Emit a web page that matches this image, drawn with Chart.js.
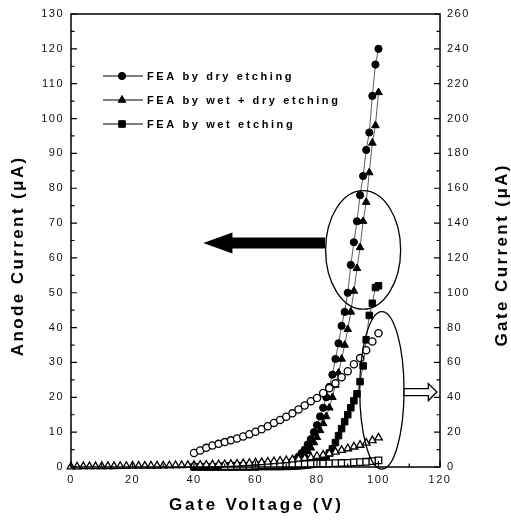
<!DOCTYPE html>
<html>
<head>
<meta charset="utf-8">
<script src="https://cdn.jsdelivr.net/npm/chart.js@4.4.0/dist/chart.umd.min.js"></script>
<style>
  html, body { margin: 0; padding: 0; background: #fff; }
  #wrap { width: 511px; height: 530px; position: relative; }
</style>
</head>
<body>
<div id="wrap"><canvas id="ivChart"></canvas></div>
<script>
// Anode current (left axis, uA) - filled markers
const anodeVolts = [40, 42, 44, 46, 48, 50, 52, 54, 56, 58, 60, 62, 64, 66, 68,
    70, 71, 72, 73, 74, 75, 76, 77, 78, 79, 80, 81, 82, 83, 84, 85,
    86, 87, 88, 89, 90, 91, 92, 93, 94, 95, 96, 97, 98, 99, 100];
const dryAnode = [0, 0, 0, 0, 0, 0, 0, 0.1, 0.1, 0.1, 0.2, 0.2, 0.3, 0.4, 0.5,
    0.8, 1.1, 1.6, 2.2, 3, 4, 5, 6.5, 8, 10, 12, 14.5, 17, 20, 23, 26.5,
    31, 35.5, 40.5, 44.5, 50, 58, 64.5, 70.5, 78, 83.5, 91, 96, 106.5, 115.5, 120];
const wetDryAnode = [0, 0, 0, 0, 0, 0, 0, 0, 0.1, 0.1, 0.1, 0.2, 0.2, 0.3, 0.4,
    0.6, 0.8, 1.1, 1.5, 2, 2.7, 3.5, 4.5, 5.5, 7, 8.5, 10.5, 12.5, 14.5, 17, 20,
    23.5, 27, 31, 35, 39.5, 44.5, 50.5, 57, 63, 70.5, 76, 84.5, 93, 98, 107.5];
const wetAnode = [0, 0, 0, 0, 0, 0, 0, 0, 0, 0, 0, 0.1, 0.1, 0.1, 0.1,
    0.15, 0.2, 0.25, 0.3, 0.35, 0.4, 0.5, 0.6, 0.7, 0.9, 1.2, 1.6, 2.2, 3, 4, 5.2,
    7, 9, 11, 13, 15, 17, 19, 21, 24.5, 29, 36.5, 43.5, 47, 51.5, 52];

// Gate current (right axis, uA) - open markers
const dryGateVolts = [40, 42, 44, 46, 48, 50, 52, 54, 56, 58, 60, 62, 64, 66, 68, 70,
    72, 74, 76, 78, 80, 82, 84, 86, 88, 90, 92, 94, 96, 98, 100];
const dryGate = [8, 9.5, 11, 12.3, 13.3, 14.3, 15.3, 16.4, 17.5, 18.8, 20.2, 21.7, 23.4, 25.3, 27, 28.8,
    30.8, 33, 35.3, 37.8, 39.6, 42.5, 45.2, 48, 51.5, 55, 59, 62.5, 67, 72, 76.8];
const wetDryGateVolts = [0, 2, 4, 6, 8, 10, 12, 14, 16, 18, 20, 22, 24, 26, 28, 30, 32, 34, 36, 38,
    40, 42, 44, 46, 48, 50, 52, 54, 56, 58, 60, 62, 64, 66, 68, 70, 72, 74, 76, 78,
    80, 82, 84, 86, 88, 90, 92, 94, 96, 98, 100];
const wetDryGate = [0.2, 0.2, 0.3, 0.3, 0.3, 0.4, 0.4, 0.4, 0.5, 0.5, 0.6, 0.6, 0.6, 0.7, 0.7, 0.8, 0.8, 0.9, 0.9, 1.0,
    1.0, 1.1, 1.2, 1.3, 1.4, 1.5, 1.6, 1.8, 2.0, 2.2, 2.4, 2.6, 2.9, 3.2, 3.5, 3.8, 4.2, 4.6, 5.0, 5.5,
    6.2, 6.9, 7.7, 8.6, 9.6, 10.6, 11.6, 12.6, 13.8, 15.2, 16.8];
const wetGateVolts = [50, 52, 54, 56, 58, 60, 62, 64, 66, 68, 70, 72, 74, 76, 78, 80,
    82, 84, 86, 88, 90, 92, 94, 96, 98, 100];
const wetGate = [0.5, 0.5, 0.6, 0.6, 0.7, 0.8, 0.9, 1.0, 1.1, 1.2, 1.4, 1.5, 1.6, 1.7, 1.8, 1.9,
    2.0, 2.1, 2.2, 2.3, 2.4, 2.6, 2.8, 3.0, 3.4, 3.8];

const legendLabels = ['FEA by dry etching', 'FEA by wet + dry etching', 'FEA by wet etching'];

const FONT = '"Liberation Sans", Arial, sans-serif';

// annotations, in data units (x: volts, y: left axis uA)
const leftEllipse = { x: 95, y: 62.3, rx: 12.2, ry: 17 };
const rightEllipse = { x: 101.1, y: 22, rx: 7.2, ry: 22.6 };
const bigArrow = { tail: 82.6, neck: 52.5, tip: 43, y: 64.3 };
const smallArrow = { tail: 108.3, neck: 116.2, tip: 119, y: 21.5 };

function pts(xs, ys) {
    return xs.map((x, i) => ({ x: x, y: ys[i] }));
}

function filledSet(label, xs, ys, style, radius) {
    return {
        label: label,
        data: pts(xs, ys),
        yAxisID: 'y',
        showLine: true,
        borderColor: '#333',
        borderWidth: 0.8,
        pointStyle: style,
        pointRadius: radius,
        pointBackgroundColor: '#000',
        pointBorderColor: '#000',
        pointBorderWidth: 1,
        clip: false,
        order: 2
    };
}

function openSet(label, xs, ys, style, radius) {
    return {
        label: label,
        data: pts(xs, ys),
        yAxisID: 'y2',
        showLine: false,
        pointStyle: style,
        pointRadius: radius,
        pointBackgroundColor: '#fff',
        pointBorderColor: '#000',
        pointBorderWidth: 1.3,
        clip: false,
        order: 1
    };
}

function arrowPath(ctx, tailX, neckX, tipX, y, half, headHalf) {
    ctx.beginPath();
    ctx.moveTo(tailX, y - half);
    ctx.lineTo(neckX, y - half);
    ctx.lineTo(neckX, y - headHalf);
    ctx.lineTo(tipX, y);
    ctx.lineTo(neckX, y + headHalf);
    ctx.lineTo(neckX, y + half);
    ctx.lineTo(tailX, y + half);
    ctx.closePath();
}

function spacedText(ctx, text, x, y, spacing) {
    ctx.letterSpacing = spacing + 'px';
    const w = ctx.measureText(text).width - spacing;
    ctx.fillText(text, x - w / 2, y);
}

const decor = {
    id: 'decor',
    beforeDraw(chart) {
        chart.ctx.letterSpacing = '1.5px';
    },
    afterDraw(chart) {
        const ctx = chart.ctx;
        const a = chart.chartArea;
        const sx = chart.scales.x, sy = chart.scales.y, sy2 = chart.scales.y2;
        ctx.save();
        ctx.strokeStyle = '#000';
        ctx.fillStyle = '#000';

        // frame
        ctx.lineWidth = 1.5;
        ctx.strokeRect(a.left, a.top, a.right - a.left, a.bottom - a.top);

        // inward ticks
        ctx.lineWidth = 1.2;
        ctx.beginPath();
        for (let v = sy.min; v <= sy.max + 1e-6; v += 5) {
            const p = sy.getPixelForValue(v);
            const len = v % 10 === 0 ? 6 : 3.5;
            ctx.moveTo(a.left, p); ctx.lineTo(a.left + len, p);
        }
        for (let v = sy2.min; v <= sy2.max + 1e-6; v += 10) {
            const p = sy2.getPixelForValue(v);
            const len = v % 20 === 0 ? 6 : 3.5;
            ctx.moveTo(a.right, p); ctx.lineTo(a.right - len, p);
        }
        for (let v = sx.min; v <= sx.max + 1e-6; v += 10) {
            const p = sx.getPixelForValue(v);
            const len = v % 20 === 0 ? 6 : 3.5;
            ctx.moveTo(p, a.bottom); ctx.lineTo(p, a.bottom - len);
        }
        ctx.stroke();

        // ellipses
        ctx.lineWidth = 1.3;
        [leftEllipse, rightEllipse].forEach(e => {
            const cx = sx.getPixelForValue(e.x), cy = sy.getPixelForValue(e.y);
            const rx = sx.getPixelForValue(e.x + e.rx) - cx;
            const ry = cy - sy.getPixelForValue(e.y + e.ry);
            ctx.beginPath();
            ctx.ellipse(cx, cy, rx, ry, 0, 0, Math.PI * 2);
            ctx.stroke();
        });

        // arrows
        const by = sy.getPixelForValue(bigArrow.y);
        arrowPath(ctx, sx.getPixelForValue(bigArrow.tail), sx.getPixelForValue(bigArrow.neck),
            sx.getPixelForValue(bigArrow.tip), by, 5.5, 10.5);
        ctx.fill();
        const ay = sy.getPixelForValue(smallArrow.y);
        arrowPath(ctx, sx.getPixelForValue(smallArrow.tail), sx.getPixelForValue(smallArrow.neck),
            sx.getPixelForValue(smallArrow.tip), ay, 3.5, 8.5);
        ctx.fillStyle = '#fff';
        ctx.fill();
        ctx.lineWidth = 1.3;
        ctx.stroke();
        ctx.fillStyle = '#000';

        // legend
        const styles = [['circle', 3.6], ['triangle', 4.4], ['rect', 4.6]];
        ctx.font = 'bold 11px ' + FONT;
        ctx.textBaseline = 'middle';
        ctx.textAlign = 'left';
        styles.forEach((s, i) => {
            const y = 76 + i * 24;
            ctx.lineWidth = 1;
            ctx.beginPath();
            ctx.moveTo(103, y); ctx.lineTo(143, y);
            ctx.stroke();
            Chart.helpers.drawPoint(ctx, { pointStyle: s[0], radius: s[1], borderWidth: 1, rotation: 0 }, 122, y);
            ctx.fill();
            ctx.letterSpacing = '2.6px';
            ctx.fillText(legendLabels[i], 147, y + 0.5);
        });

        // axis titles
        ctx.font = 'bold 17px ' + FONT;
        ctx.textBaseline = 'middle';
        ctx.textAlign = 'left';
        spacedText(ctx, 'Gate Voltage (V)', 255, 505, 2.8);

        ctx.save();
        ctx.translate(18, 257);
        ctx.rotate(-Math.PI / 2);
        spacedText(ctx, 'Anode Current (\u03bcA)', 0, 0, 2.4);
        ctx.restore();

        ctx.save();
        ctx.translate(502, 256);
        ctx.rotate(-Math.PI / 2);
        spacedText(ctx, 'Gate Current (\u03bcA)', 0, 0, 2.4);
        ctx.restore();

        ctx.restore();
    }
};

const tickFont = { family: FONT, size: 11 };

new Chart(document.getElementById('ivChart'), {
    type: 'scatter',
    data: {
        datasets: [
            openSet('dry gate', dryGateVolts, dryGate, 'circle', 3.6),
            openSet('wet + dry gate', wetDryGateVolts, wetDryGate, 'triangle', 4.4),
            openSet('wet gate', wetGateVolts, wetGate, 'rect', 4.6),
            filledSet(legendLabels[0], anodeVolts, dryAnode, 'circle', 3.6),
            filledSet(legendLabels[1], anodeVolts, wetDryAnode, 'triangle', 4.4),
            filledSet(legendLabels[2], anodeVolts, wetAnode, 'rect', 4.6)
        ]
    },
    options: {
        responsive: true,
        maintainAspectRatio: false,
        animation: false,
        layout: { padding: { top: 14, left: 0, right: 0, bottom: 0 } },
        plugins: {
            legend: { display: false },
            tooltip: { enabled: false }
        },
        scales: {
            x: {
                type: 'linear',
                min: 0,
                max: 120,
                ticks: { stepSize: 20, color: '#111', font: tickFont, padding: 6, maxRotation: 0 },
                grid: { display: false, drawTicks: false },
                border: { display: false },
                afterFit: s => { s.height = 63; }
            },
            y: {
                type: 'linear',
                position: 'left',
                min: 0,
                max: 130,
                ticks: { stepSize: 10, color: '#111', font: tickFont, padding: 7 },
                grid: { display: false, drawTicks: false },
                border: { display: false },
                afterFit: s => { s.width = 71; }
            },
            y2: {
                type: 'linear',
                position: 'right',
                min: 0,
                max: 260,
                ticks: { stepSize: 20, color: '#111', font: tickFont, padding: 7 },
                grid: { display: false, drawTicks: false },
                border: { display: false },
                afterFit: s => { s.width = 71; }
            }
        }
    },
    plugins: [decor]
});
</script>
</body>
</html>
